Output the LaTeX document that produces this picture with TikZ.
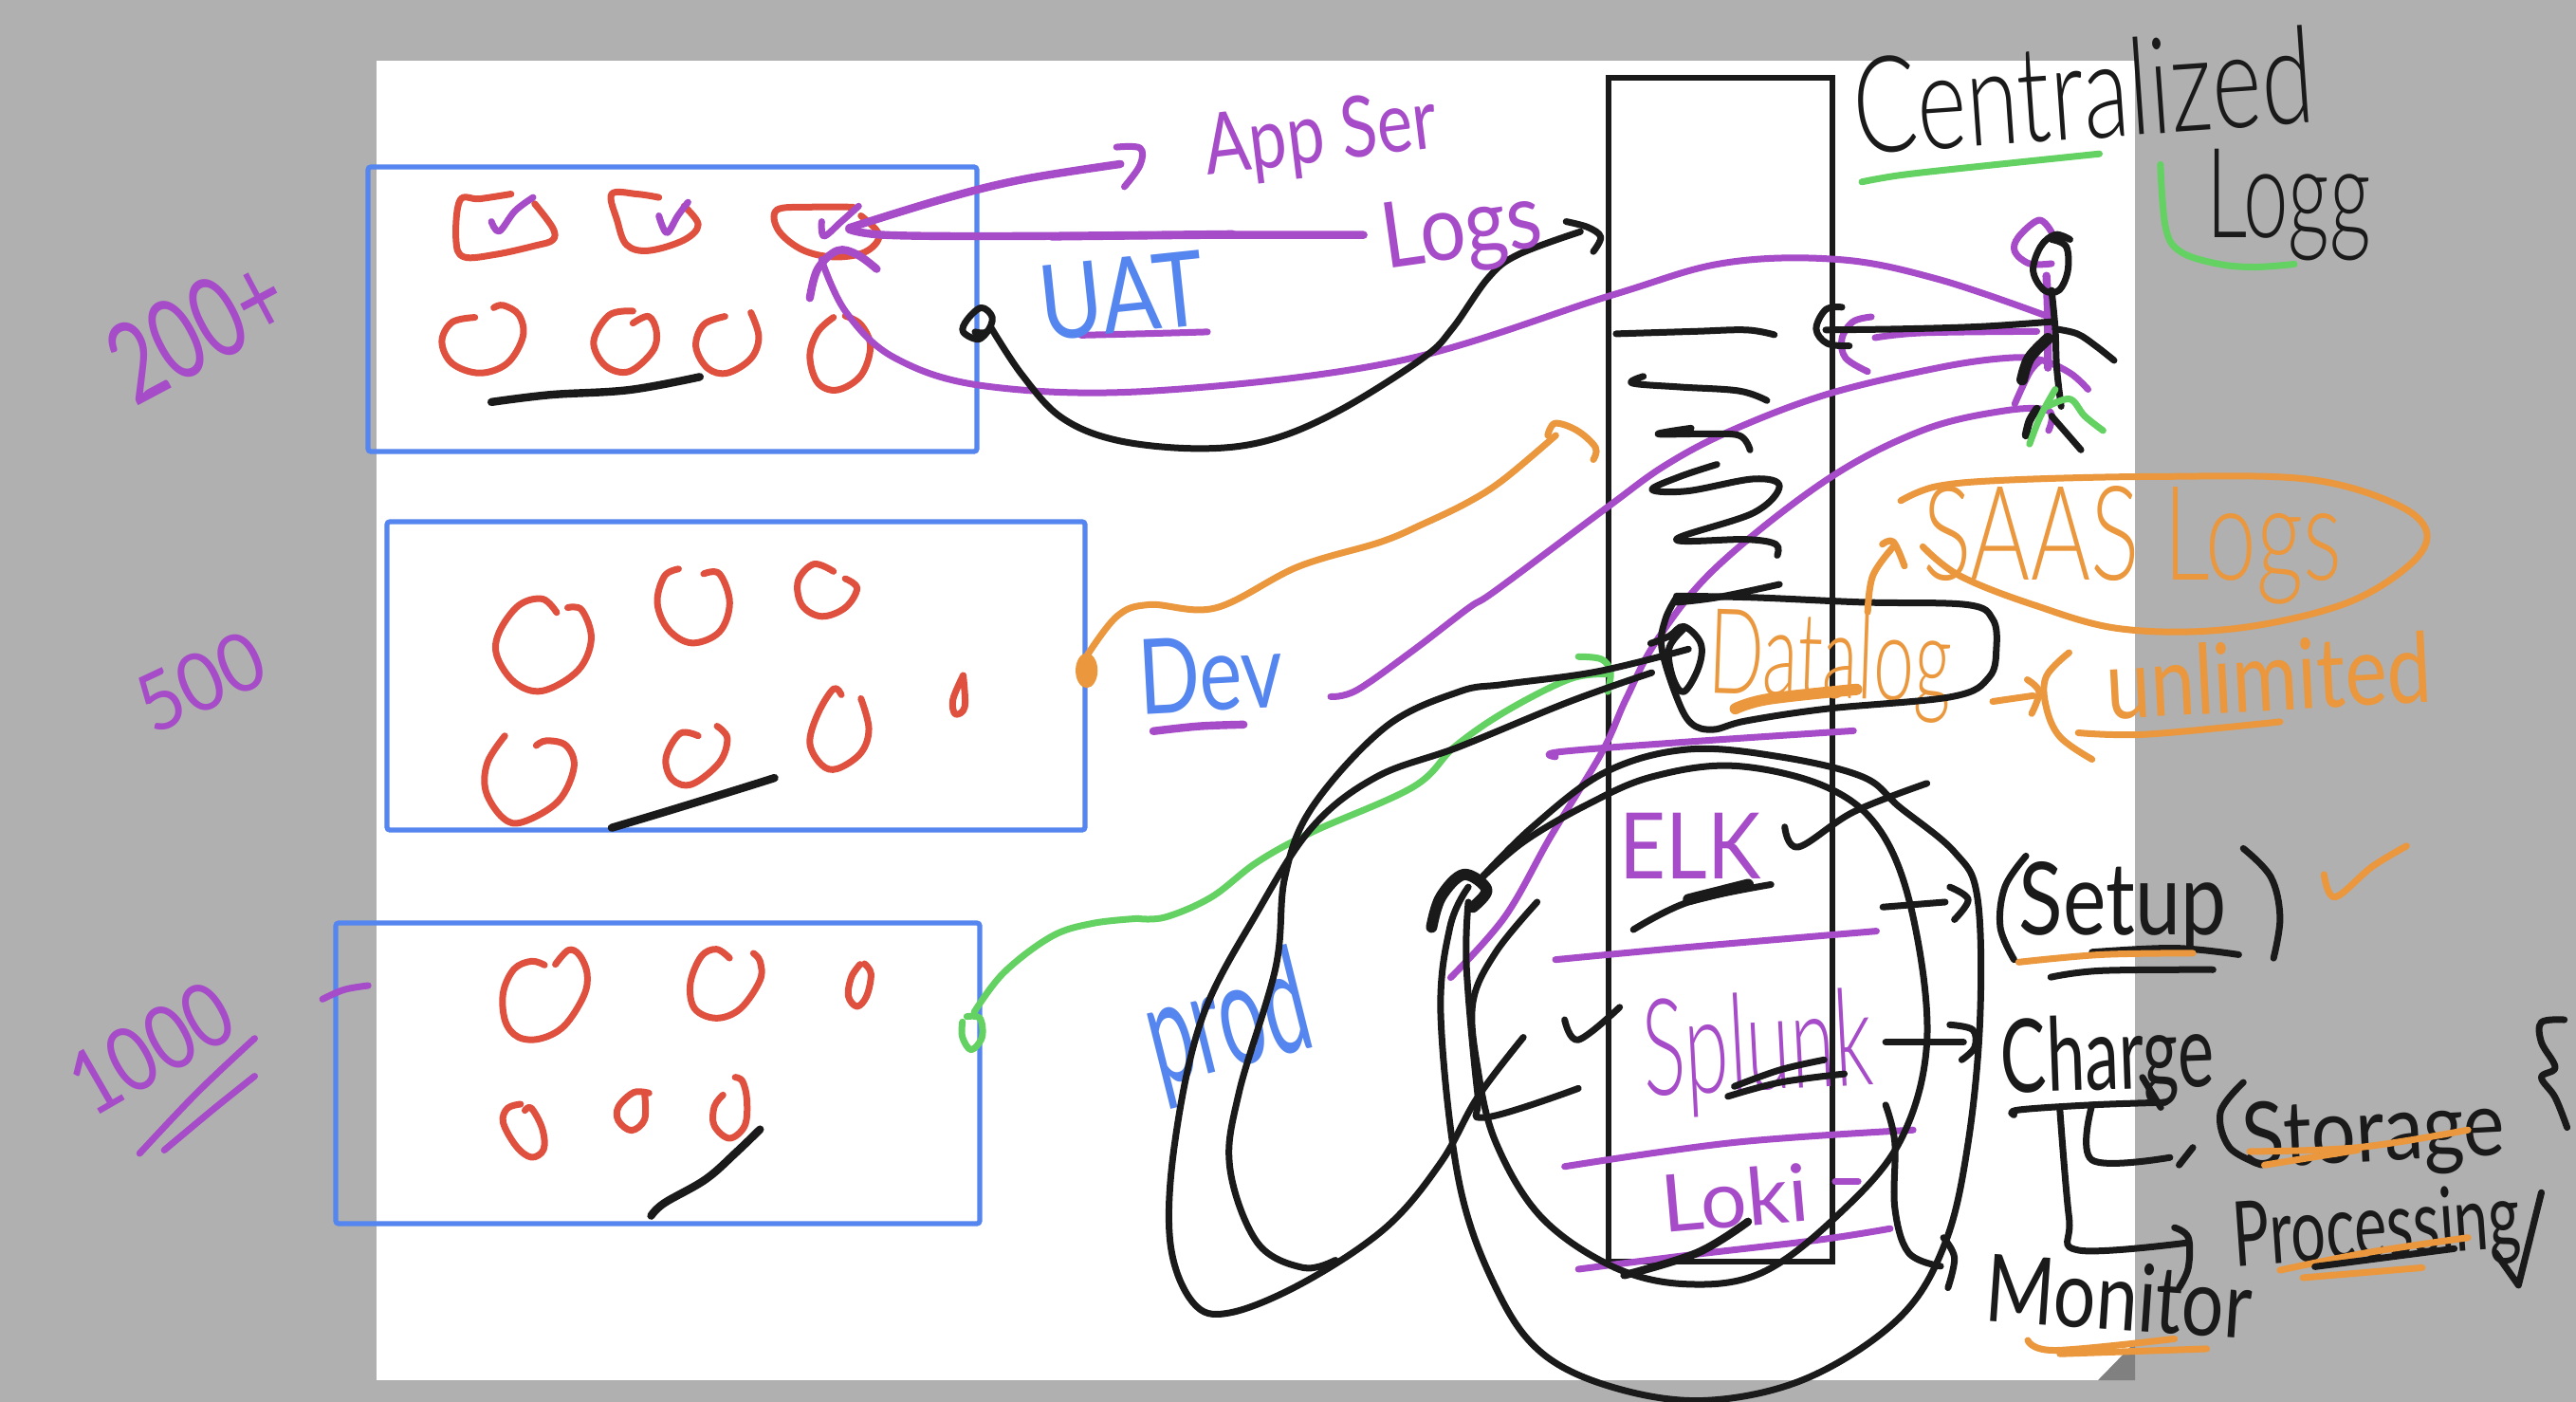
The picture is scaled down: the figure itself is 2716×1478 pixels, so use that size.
\documentclass[tikz,border=0pt]{standalone}
\usepackage{graphicx}
\usepackage{fontspec}
\setmainfont{Lato}
\newfontfamily\lightink{Lato}[UprightFont={* Light}]
\newlength\pxu \setlength\pxu{0.866pt}
\newcommand{\fitbox}[3]{\resizebox*{#1\pxu}{#2\pxu}{#3}}
\newcommand{\hand}[2]{\draw[ink,#1] plot[smooth,tension=0.6] coordinates {#2};}
\definecolor{cblue}{HTML}{5585EE}
\definecolor{cred}{HTML}{E0503F}
\definecolor{cpur}{HTML}{A64CC8}
\definecolor{cblk}{HTML}{1A1A1A}
\definecolor{cgrn}{HTML}{63D263}
\definecolor{corg}{HTML}{EA973D}
\definecolor{cbg}{HTML}{B0B0B0}
\definecolor{cfold}{HTML}{808080}
\tikzset{
 ink/.style={line width=3.5pt,line cap=round,line join=round},
 thick2/.style={line width=4.2pt},
 thick3/.style={line width=6pt},
 bluebox/.style={draw=cblue,line width=2.6pt,rounded corners=1.5pt,inner sep=0pt,outer sep=0pt,anchor=north west},
 label/.style={inner sep=0pt,outer sep=0pt},
 zA/.style={shift={(1500,0)},xscale=.7755,yscale=.51},
 zB/.style={shift={(1200,650)},xscale=.967,yscale=.528},
 zC/.style={shift={(0,100)},xscale=.829,yscale=.51},
 zD/.style={scale=1.7321},
 zE/.style={shift={(340,960)},xscale=.459,yscale=.3333}
}
\begin{document}
\begin{tikzpicture}[x=0.5pt,y=-0.5pt]
\useasboundingbox (0,0) rectangle (2716,1478);
\fill[cbg] (0,0) rectangle (2716,1478);
\fill[white] (397,64) rectangle (2251,1455);
\fill[cfold] (2212,1455) -- (2251,1455) -- (2251,1415) -- cycle;

% blue boxes
\node[bluebox,minimum width=321pt,minimum height=150pt] (uatbox) at (388,176) {};
\node[bluebox,minimum width=368pt,minimum height=162.5pt] (devbox) at (408,550) {};
\node[bluebox,minimum width=339.5pt,minimum height=158.5pt] (prodbox) at (354,973) {};
% tall black box
\node[draw=cblk,line width=2.6pt,inner sep=0pt,outer sep=0pt,minimum width=118pt,minimum height=624pt,anchor=north west] (store) at (1696,82) {};

\begin{scope}[zC]
 % box 1 shapes
 \hand{cred}{(650,205)(610,215)(585,218)(580,300)(590,335)(630,330)(680,312)(703,300)(703,275)(680,225)}
 \hand{cred}{(838,212)(810,205)(778,205)(785,260)(797,310)(825,322)(870,300)(888,268)(870,230)}
 \hand{cred}{(1085,232)(1030,232)(988,238)(990,280)(1020,320)(1060,335)(1100,325)(1118,290)(1095,250)}
 \hand{cred}{(604,460)(575,470)(562,510)(575,555)(610,575)(645,555)(665,500)(660,455)(640,435)(628,440)}
 \hand{cred}{(805,447)(775,455)(755,510)(770,560)(800,572)(830,530)(835,490)(825,458)(805,472)}
 \hand{cred}{(922,458)(895,475)(885,520)(900,565)(925,575)(955,545)(965,500)(955,450)}
 \hand{cred}{(1060,460)(1040,490)(1030,540)(1040,595)(1065,610)(1095,580)(1107,520)(1095,475)(1075,457)}
 \hand{cpur}{(625,262)(635,282)(655,240)(678,212)}
 \hand{cpur}{(838,250)(848,285)(862,250)(875,222)}
 \hand{cpur}{(1045,262)(1048,292)(1070,262)(1092,230)}
 \hand{cblk,thick2}{(625,635)(700,620)(800,610)(890,583)}
 % box 2 shapes
 \hand{cred}{(708,1070)(690,1042)(660,1055)(635,1110)(632,1160)(655,1215)(690,1232)(735,1190)(752,1125)(740,1065)(722,1060)}
 \hand{cred}{(863,980)(845,995)(836,1050)(850,1105)(880,1133)(915,1110)(928,1050)(915,990)(895,990)}
 \hand{cred}{(1060,985)(1035,970)(1015,1005)(1020,1055)(1045,1078)(1075,1060)(1090,1020)(1075,1000)}
 \hand{cred}{(1225,1200)(1212,1250)(1215,1280)(1227,1265)(1225,1200)}
 \hand{cred}{(642,1325)(620,1380)(618,1440)(640,1495)(665,1503)(710,1460)(730,1390)(720,1345)(695,1335)(682,1345)}
 \hand{cred}{(888,1325)(865,1320)(847,1370)(855,1415)(880,1425)(915,1380)(925,1330)(912,1305)}
 \hand{cred}{(1070,1240)(1060,1228)(1040,1280)(1030,1340)(1045,1385)(1065,1393)(1095,1360)(1105,1310)(1095,1248)}
 \hand{cblk,thick2}{(778,1515)(850,1480)(940,1435)(985,1412)}
 % arrows at third shape
 \hand{cpur,thick2}{(1030,420)(1040,360)(1065,322)(1090,330)(1115,360)}
 \hand{cpur,thick2}{(1080,275)(1200,215)(1300,175)(1425,143)}
 \hand{cpur}{(1420,108)(1450,110)(1450,145)(1430,190)}
 \hand{cpur,thick2}{(1080,278)(1130,290)(1300,292)(1568,288)}
 % UAT loop
 \hand{cblk}{(1260,480)(1245,505)(1225,490)(1230,465)(1248,440)(1262,460)(1255,490)(1240,490)}
 % dev dot
 \fill[corg] (1382,1190) ellipse (14 and 36);
\end{scope}

\begin{scope}[zE]
 \hand{cred}{(510,172)(480,160)(440,185)(415,260)(420,350)(450,400)(500,405)(555,365)(600,270)(608,200)(590,140)(565,125)(535,170)}
 \hand{cred}{(935,150)(905,122)(870,145)(845,230)(855,310)(905,340)(960,310)(1005,220)(1005,160)(990,135)}
 \hand{cred}{(1235,170)(1215,210)(1208,270)(1228,303)(1250,270)(1260,200)(1245,168)}
 \hand{cred}{(455,612)(425,625)(415,670)(445,745)(480,780)(508,755)(505,690)(480,625)(465,632)}
 \hand{cred}{(750,577)(715,575)(680,620)(680,665)(710,695)(740,660)(740,580)}
 \hand{cred}{(920,583)(900,620)(900,680)(935,720)(970,680)(975,600)(965,540)(948,527)}
 \hand{cblk,thick2}{(755,965)(785,925)(880,850)(950,765)(1005,692)}
 \hand{cgrn}{(1470,352)(1470,400)(1490,440)(1515,400)(1510,340)(1480,335)}
 \hand{cpur}{(0,280)(50,250)(105,237)}
\end{scope}

\begin{scope}[zD]
 % long purple back to third shape
 \hand{cpur}{(500,158)(515,190)(545,218)(600,235)(700,238)(850,220)(980,180)(1050,160)(1120,158)(1180,170)(1245,192)}
 \hand{cpur,thick2}{(640,144)(740,143)(830,143)}
 \hand{cpur}{(658,204)(700,203)(735,202)}
 \hand{cpur,thick2}{(702,445)(730,442)(757,441)}
 % long connectors
 \hand{cblk}{(603,199)(622,228)(646,254)(680,268)(730,273)(772,268)(815,250)(866,218)(884,200)(906,169)(924,155)(962,141)}
 \hand{corg}{(661,400)(680,375)(700,368)(740,370)(790,345)(840,330)(866,319)(893,306)(915,292)(947,265)}
 \hand{cgrn}{(593,616)(611,592)(640,570)(665,562)(693,559)}
 \hand{cpur}{(810,424)(826,420)(860,396)(894,370)(911,359)(978,309)(1014,283)(1054,262)(1112,240)(1179,224)(1220,218)(1242,219)(1260,227)(1271,237)}
 \hand{cpur}{(883,595)(916,558)(944,509)(975,458)(990,425)(1009,389)(1045,345)(1112,292)(1170,262)(1220,250)(1247,250)(1247,262)}
 \hand{cpur}{(85,702)(120,665)(155,632)}
 \hand{cpur}{(100,700)(130,675)(155,655)}

 \node[label,text=cpur,rotate=28] (n200) at (120,200) {\fitbox{112}{50}{200+}};
 \node[label,text=cpur,rotate=25] (n500) at (122,415) {\fitbox{80}{36}{500}};
 \node[label,text=cpur,rotate=30] (n1000) at (92,638) {\fitbox{105}{40}{1000}};
 \node[label,text=cpur,rotate=7] (appser) at (804,84) {\fitbox{142}{46}{App Ser}};
 \node[label,text=cpur,rotate=8] (logs) at (890,142) {\fitbox{98}{50}{Logs}};
 \node[label,text=cblue,rotate=6] (uat) at (683,180) {\fitbox{100}{46}{UAT}};
 \node[label,text=cblue,rotate=3] (dev) at (737,410) {\fitbox{88}{46}{Dev}};
 \node[label,text=cblue,rotate=14] (prod) at (748,625) {\fitbox{100}{80}{prod}};
 \node[label,text=cblk,rotate=4] (central) at (1268,55) {\fitbox{280}{60}{\lightink Centralized}};
 \node[label,text=cblk] (logg) at (1393,125) {\fitbox{100}{68}{\lightink Logg}};
 \node[label,text=corg] (saas) at (1298,332) {\fitbox{255}{72}{\lightink SAAS Logs}};
 \node[label,text=corg,rotate=-2] (datalog) at (1114,405) {\fitbox{148}{66}{\lightink Datalog}};
 \node[label,text=corg,rotate=3] (unlim) at (1381,411) {\fitbox{198}{44}{unlimited}};
 \node[label,text=cpur] (elk) at (1029,515) {\fitbox{86}{40}{ELK}};
 \node[label,text=cpur,rotate=3] (splunk) at (1070,641) {\fitbox{140}{74}{\lightink Splunk}};
 \node[label,text=cpur,rotate=5] (loki) at (1056,729) {\fitbox{89}{36}{Loki}};
 \node[label,text=cblk] (setup) at (1292,552) {\fitbox{126}{55}{Setup}};
 \node[label,text=cblk,rotate=2] (charge) at (1283,646) {\fitbox{130}{57}{Charge}};
 \node[label,text=cblk,rotate=3] (storage) at (1445,692) {\fitbox{160}{50}{Storage}};
 \node[label,text=cblk,rotate=4] (proc) at (1447,750) {\fitbox{175}{50}{Processing}};
 \node[label,text=cblk,rotate=-4] (monitor) at (1290,789) {\fitbox{162}{42}{Monitor}};
\end{scope}

\begin{scope}[zA]
 \hand{cgrn}{(597,376)(650,362)(750,345)(920,318)}
 \hand{cgrn}{(1003,340)(1010,470)(1030,520)(1080,545)(1130,552)(1185,546)}
 % arrowheads on the tall box
 \hand{cblk}{(195,458)(225,470)(242,490)(232,520)}
 \hand{corg}{(170,900)(180,875)(210,890)(235,925)(232,950)}
 % purple at the person
 \hand{cpur}{(615,698)(680,688)(835,685)}
 \hand{cpur}{(610,655)(585,665)(570,700)(575,740)(605,768)}
 \hand{cpur}{(855,480)(838,455)(810,490)(805,520)(825,545)(855,545)}
 \hand{cpur,thick2}{(848,570)(850,650)(850,760)}
 \hand{cpur}{(805,835)(825,770)(840,745)}
 % person
 \hand{cblk}{(880,495)(860,485)(840,510)(830,560)(845,600)(865,600)(877,560)(875,510)(855,495)}
 \hand{cblk}{(855,600)(860,680)(862,760)(868,840)}
 \hand{cblk}{(548,682)(650,680)(760,675)(855,665)}
 \hand{cblk}{(570,635)(548,640)(535,680)(550,710)(580,715)}
 \hand{cblk}{(860,680)(890,690)(915,715)(940,745)}
 \hand{cblk,thick3}{(850,700)(825,740)(815,785)}
 \hand{cblk,thick2}{(835,845)(825,870)(820,900)}
 \hand{cblk}{(855,860)(875,895)(895,930)}
 \hand{cgrn}{(825,918)(840,860)(860,805)}
 \hand{cgrn}{(850,840)(880,825)(900,860)(925,890)}
 % scribbles in the tall box
 \hand{cblk}{(263,690)(370,685)(440,682)(478,692)}
 \hand{cblk}{(300,778)(285,792)(350,800)(430,808)(468,828)}
 \hand{cblk}{(365,885)(320,897)(380,897)(430,900)(445,930)}
 \hand{cblk}{(400,960)(350,985)(312,1012)(360,1015)(450,990)(485,1005)(450,1060)(345,1115)(440,1115)(480,1125)(482,1148)}
 \hand{cblk}{(485,1208)(400,1235)(345,1245)}
 % datalog capsule
 \hand{cblk}{(345,1235)(330,1280)(325,1340)(345,1440)(365,1495)(395,1508)(440,1490)(550,1465)(720,1440)(770,1400)(780,1340)(775,1280)(740,1250)(600,1245)(450,1235)(345,1232)}
 \hand{cblk}{(310,1330)(335,1315)(355,1295)(378,1330)(375,1380)(355,1430)(340,1400)(335,1340)(355,1300)}
 \hand{corg,thick3}{(425,1465)(470,1445)(590,1425)}
 % orange arrows
 \hand{corg}{(605,1265)(612,1190)(640,1130)}
 \hand{corg}{(625,1125)(640,1120)(655,1170)}
 \hand{corg}{(650,1035)(700,1005)(800,992)(1000,985)(1200,990)(1320,1040)(1365,1100)(1340,1170)(1250,1250)(1100,1300)(950,1300)(830,1250)(730,1190)(680,1130)}
 \hand{corg}{(775,1450)(830,1438)}
 \hand{corg}{(822,1405)(838,1430)(828,1475)}
\end{scope}

\begin{scope}[zB]
 \hand{cgrn}{(0,603)(30,600)(80,560)(130,490)(190,430)(300,340)(345,260)(400,190)(470,125)(510,115)}
 \hand{cgrn}{(480,80)(505,85)(515,110)(512,150)}
 \hand{cpur}{(455,280)(460,270)(600,250)(780,228)}
 \hand{cpur}{(455,685)(600,660)(805,628)}
 \hand{cpur}{(465,1098)(650,1050)(845,1025)}
 \hand{cpur}{(480,1303)(600,1275)(740,1245)(820,1222)}
 \hand{cpur}{(760,1128)(785,1128)}
 \hand{corg}{(1015,72)(990,120)(990,180)(1005,240)(1040,285)}
 \hand{corg}{(1025,232)(1100,235)(1245,210)}
 % ovals
 \hand{cblk}{(370,530)(430,420)(510,310)(600,265)(700,280)(790,320)(830,380)(890,470)(915,560)(918,800)(905,1050)(880,1250)(830,1400)(730,1520)(620,1565)(520,1540)(440,1470)(390,1340)(350,1130)(330,800)(340,620)(360,540)}
 \hand{cblk}{(435,570)(390,670)(365,770)(370,900)(390,1050)(440,1200)(520,1300)(600,1333)(680,1310)(760,1200)(830,1050)(860,850)(845,600)(810,430)(750,340)(650,298)(560,320)(490,375)(420,450)(370,530)}
 \hand{cblk,thick3}{(320,620)(330,560)(355,515)(380,545)(365,580)}
 \hand{cblk}{(360,570)(358,700)(370,950)(378,1000)(480,942)}
 \hand{cblk}{(420,840)(370,960)(330,1090)(270,1220)(180,1330)(100,1390)(60,1370)(35,1250)(40,1050)(70,800)(130,590)(190,420)(260,320)(350,260)(470,170)(560,112)}
 \hand{cblk}{(600,65)(500,110)(400,135)(350,150)(270,220)(190,380)(160,520)(150,700)(110,950)(100,1100)(130,1250)(180,1300)(215,1285)}
 \hand{cblk}{(815,975)(825,1050)(825,1180)(840,1270)(875,1297)}
 \hand{cblk}{(878,1240)(890,1280)(883,1340)}
 % elk and splunk marks
 \hand{cblk}{(540,625)(600,570)(690,535)}
 \hand{cblk,thick3}{(600,565)(665,535)}
 \hand{cblk}{(705,420)(720,460)(780,390)(860,333)}
 \hand{cblk}{(650,938)(700,905)(748,885)}
 \hand{cblk}{(643,958)(700,930)(770,913)}
 \hand{cblk}{(465,805)(480,845)(525,780)}
 \hand{cblk,thick2}{(530,1315)(610,1270)(665,1208)}
 % right arrows
 \hand{cblk}{(815,850)(900,850)}
 \hand{cblk}{(885,815)(910,825)(912,860)(898,885)}
 \hand{cblk}{(812,580)(880,570)}
 \hand{cblk}{(885,540)(905,565)(890,605)}
 % setup
 \hand{cblk}{(968,478)(945,540)(940,620)(955,685)}
 \hand{cblk}{(1205,463)(1235,520)(1245,600)(1238,682)}
 \hand{cblk}{(1040,670)(1130,662)(1200,675)}
 \hand{cblk}{(995,720)(1050,707)(1172,705)}
 \hand{corg}{(960,690)(1050,675)(1150,672)}
 \hand{corg}{(1293,515)(1305,560)(1345,500)(1383,458)}
 % charge branches
 \hand{cblk}{(955,995)(960,985)(1040,975)(1120,970)}
 \hand{cblk}{(1095,920)(1115,980)}
 \hand{cblk}{(1040,975)(1040,1085)(1125,1080)}
 \hand{cblk}{(1150,1060)(1135,1095)}
 \hand{cblk}{(1005,985)(1015,1200)(1025,1265)(1145,1250)}
 \hand{cblk}{(1130,1220)(1145,1240)(1145,1300)(1135,1340)}
 % storage
 \hand{cblk}{(1205,930)(1180,990)(1190,1060)(1225,1095)}
 \hand{corg}{(1212,1068)(1330,1060)(1450,1025)}
 \hand{corg}{(1228,1095)(1330,1065)}
 \hand{cblk}{(1555,805)(1530,810)(1530,850)(1545,900)(1530,920)(1545,960)(1558,1020)}
 % processing
 \draw[ink,cblk] (1480,1270) -- (1505,1335) -- (1530,1150);
 \hand{corg}{(1245,1305)(1340,1270)(1450,1240)}
 \hand{cblk}{(1283,1298)(1435,1262)}
 \hand{corg}{(1270,1320)(1400,1300)}
 % monitor
 \hand{corg}{(970,1445)(1000,1465)(1130,1442)}
 \hand{corg}{(1005,1472)(1165,1462)}
\end{scope}
\end{tikzpicture}
\end{document}
